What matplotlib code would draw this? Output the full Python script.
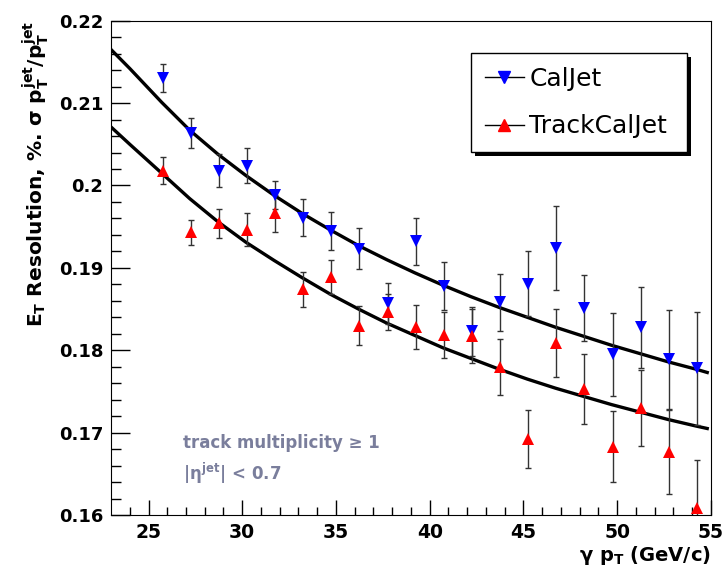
import matplotlib.pyplot as plt
from matplotlib.lines import Line2D
from matplotlib.patches import Rectangle
from matplotlib.transforms import IdentityTransform

plt.rcParams['font.family'] = 'DejaVu Sans'
plt.rcParams['mathtext.fontset'] = 'custom'
plt.rcParams['mathtext.rm'] = 'DejaVu Sans:bold'
plt.rcParams['mathtext.it'] = 'DejaVu Sans:bold'
plt.rcParams['mathtext.bf'] = 'DejaVu Sans:bold'

# photon pT bins (GeV/c)
pt = [25.75, 27.25, 28.75, 30.25, 31.75, 33.25, 34.75, 36.25, 37.75, 39.25,
      40.75, 42.25, 43.75, 45.25, 46.75, 48.25, 49.75, 51.25, 52.75, 54.25]

# CalJet resolution and errors
cal = [0.2131, 0.2064, 0.2018, 0.2024, 0.1989, 0.1961, 0.1945, 0.1923, 0.1857, 0.1932,
       0.1878, 0.1823, 0.1858, 0.1881, 0.1924, 0.1851, 0.1795, 0.1828, 0.1789, 0.1778]
cal_err = [0.0017, 0.0018, 0.0020, 0.0021, 0.0017, 0.0022, 0.0023, 0.0025, 0.0025, 0.0029,
           0.0029, 0.0030, 0.0035, 0.0039, 0.0051, 0.0040, 0.0050, 0.0049, 0.0060, 0.0069]

# TrackCalJet resolution and errors
trk = [0.2018, 0.1943, 0.1954, 0.1946, 0.1966, 0.1874, 0.1889, 0.1830, 0.1846, 0.1828,
       0.1819, 0.1817, 0.1780, 0.1692, 0.1809, 0.1753, 0.1683, 0.1730, 0.1676, 0.1609]
trk_err = [0.0016, 0.0015, 0.0018, 0.0020, 0.0022, 0.0021, 0.0021, 0.0024, 0.0022, 0.0027,
           0.0028, 0.0033, 0.0034, 0.0035, 0.0041, 0.0042, 0.0043, 0.0046, 0.0051, 0.0058]

# fitted curves
fit_x = [23.0, 24.0, 25.7, 27.2, 28.7, 30.2, 31.7, 33.2, 34.7, 36.2, 37.7, 39.2,
         40.7, 42.2, 43.7, 45.2, 46.7, 48.2, 49.7, 51.2, 52.7, 54.2, 54.8]
fit_cal = [0.2165, 0.2142, 0.2101, 0.2067, 0.2038, 0.2012, 0.1988, 0.1966, 0.1946, 0.1927,
           0.1910, 0.1894, 0.1879, 0.1865, 0.1852, 0.1840, 0.1828, 0.1817, 0.1806, 0.1796,
           0.1786, 0.1777, 0.1773]
fit_trk = [0.2071, 0.2050, 0.2015, 0.1984, 0.1956, 0.1931, 0.1909, 0.1888, 0.1868, 0.1850,
           0.1833, 0.1818, 0.1803, 0.1790, 0.1777, 0.1765, 0.1754, 0.1744, 0.1734, 0.1725,
           0.1716, 0.1708, 0.1705]

fig = plt.figure(figsize=(7.26, 5.67), dpi=100)
ax = fig.add_axes([0.1529, 0.0917, 0.8264, 0.8718])

ax.plot(fit_x, fit_cal, color='black', lw=2.4, zorder=2, solid_joinstyle='round')
ax.plot(fit_x, fit_trk, color='black', lw=2.4, zorder=2, solid_joinstyle='round')

ax.errorbar(pt, cal, yerr=cal_err, fmt='none', ecolor='#333333', elinewidth=1,
            capsize=2.5, capthick=1, zorder=3)
ax.errorbar(pt, trk, yerr=trk_err, fmt='none', ecolor='#333333', elinewidth=1,
            capsize=2.5, capthick=1, zorder=3)
ax.plot(pt, cal, 'v', color='blue', ms=8, mew=0, zorder=4, clip_on=False)
ax.plot(pt, trk, '^', color='red', ms=8, mew=0, zorder=4, clip_on=False)

ax.set_xlim(23, 55)
ax.set_ylim(0.16, 0.22)
ax.set_xticks([25, 30, 35, 40, 45, 50, 55])
ax.set_xticks(range(24, 55), minor=True)
ax.set_yticks([0.16, 0.17, 0.18, 0.19, 0.2, 0.21, 0.22])
ax.set_yticklabels(['0.16', '0.17', '0.18', '0.19', '0.2', '0.21', '0.22'])
ax.set_yticks([0.16 + 0.002 * i for i in range(31)], minor=True)
ax.tick_params(which='both', direction='in', top=False, right=False, width=1)
ax.tick_params(axis='y', which='major', length=13.7, pad=5.5, labelsize=13)
ax.tick_params(axis='y', which='minor', length=7)
ax.tick_params(axis='x', which='major', length=11, pad=6, labelsize=13.5)
ax.tick_params(axis='x', which='minor', length=6)
for lab in ax.get_xticklabels() + ax.get_yticklabels():
    lab.set_fontweight('bold')

ax.set_ylabel(r'$E_T$ Resolution, %. $\sigma$ $p_T^{jet}/p_T^{jet}$',
              fontsize=14.5, fontweight='bold', loc='top')
ax.yaxis.set_label_coords(-0.10, 1.0)
ax.set_xlabel(r'$\gamma$ $p_T$ (GeV/c)', fontsize=14, fontweight='bold', loc='right')
ax.xaxis.set_label_coords(1.0, -0.058)

ax.text(0.12, 0.146, 'track multiplicity ≥ 1', transform=ax.transAxes,
        color='#7a7e9c', fontsize=12, fontweight='bold', va='center')
ax.text(0.12, 0.085, r'|$\eta^{jet}$| < 0.7', transform=ax.transAxes,
        color='#7a7e9c', fontsize=12, fontweight='bold', va='center')

handles = [Line2D([], [], color='black', lw=1, marker='v', mfc='blue', mec='blue', ms=8),
           Line2D([], [], color='black', lw=1, marker='^', mfc='red', mec='red', ms=8)]
leg = ax.legend(handles, ['CalJet', 'TrackCalJet'], loc='upper left',
                bbox_to_anchor=(0.6, 0.7344, 0.36, 0.2002), mode='expand',
                fontsize=18, frameon=True, fancybox=False, framealpha=1,
                edgecolor='black', handlelength=1.56, handletextpad=0.22,
                borderpad=0.55, labelspacing=0.94, borderaxespad=0)
leg.get_frame().set_linewidth(1)
leg.set_zorder(6)

# solid black shadow behind the legend box
fig.canvas.draw()
bb = leg.get_frame().get_window_extent()
ax.add_patch(Rectangle((bb.x0 + 4, bb.y0 - 4), bb.width, bb.height,
                       transform=IdentityTransform(), facecolor='black',
                       edgecolor='none', zorder=5, clip_on=False))

fig.savefig('out.png', dpi=100)
